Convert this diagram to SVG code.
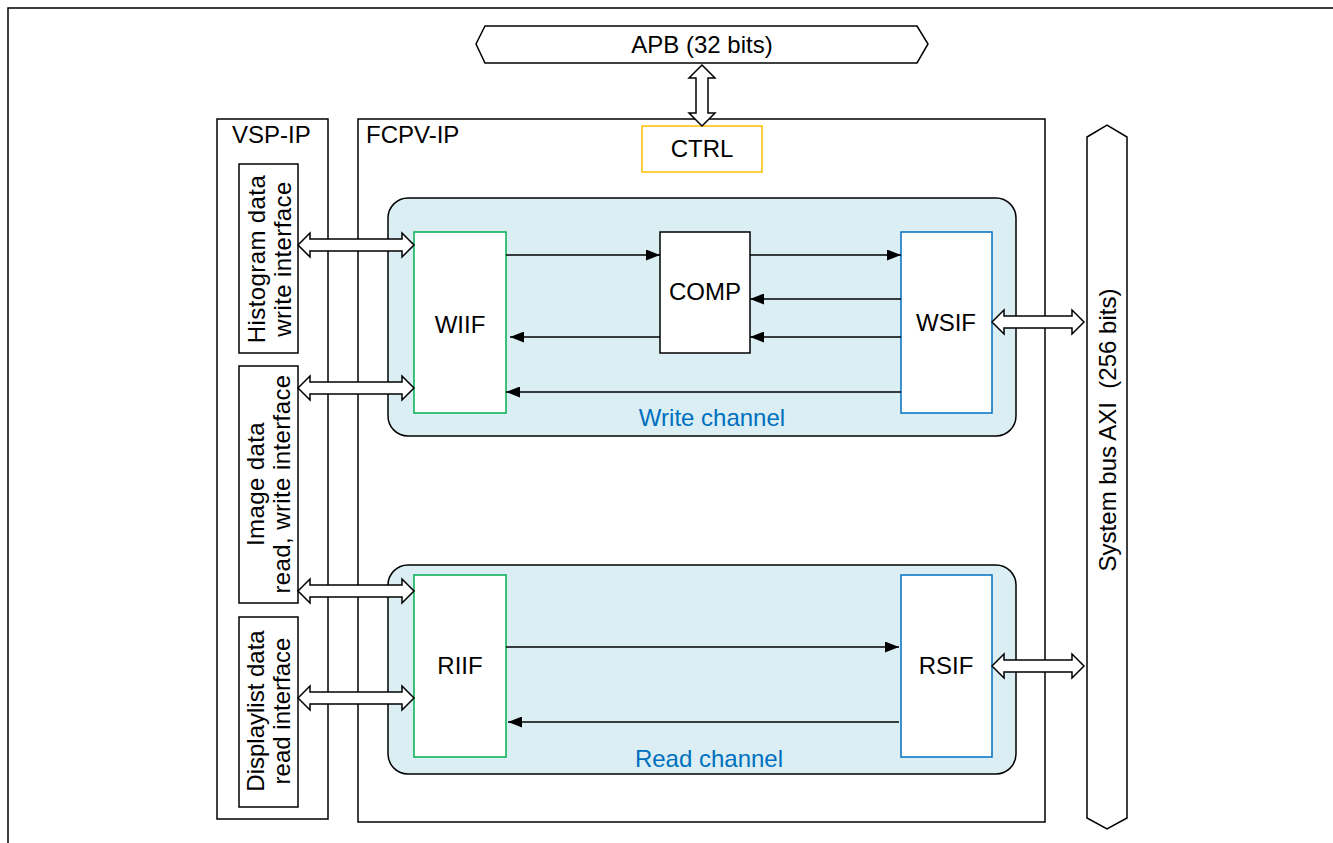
<svg xmlns="http://www.w3.org/2000/svg" width="1333" height="843" viewBox="0 0 1333 843">
<defs>
<style>
text{font-family:"Liberation Sans",Arial,sans-serif;font-size:24px;fill:#000}
.rot{letter-spacing:0.4px}
.box{fill:#fff;stroke:#000;stroke-width:1.5}
.ch{fill:#DAEEF3;stroke:#000;stroke-width:1.5}
.g{fill:#fff;stroke:#00B050;stroke-width:1.5}
.b{fill:#fff;stroke:#0070C0;stroke-width:1.5}
.dbl{fill:#fff;stroke:#000;stroke-width:1.5;stroke-linejoin:miter}
.ln{stroke:#000;stroke-width:1.5;fill:none;marker-end:url(#ah)}
.mid{text-anchor:middle}
.blue{fill:#0070C0}
</style>
<marker id="ah" viewBox="0 0 14 11" refX="14" refY="5.5" markerWidth="14" markerHeight="11" markerUnits="userSpaceOnUse" orient="auto">
<path d="M0,0 L14,5.5 L0,11 Z" fill="#000"/>
</marker>
</defs>
<rect width="1333" height="843" fill="#fff"/>
<path d="M8,843 V8 H1333" fill="none" stroke="#000" stroke-width="1.5"/>

<g id="apb">
<polygon class="box" points="476,44 485,26 917,26 928,44 917,63 485,63"/>
<text class="mid" x="702" y="53">APB (32 bits)</text>
</g>

<g id="vsp-ip">
<rect class="box" x="217" y="119" width="111" height="700"/>
<text x="232" y="143">VSP-IP</text>
</g>

<g id="fcpv-ip">
<rect class="box" x="358" y="119" width="687" height="703"/>
<text x="366" y="143">FCPV-IP</text>
</g>

<g id="ctrl">
<rect x="642" y="126" width="120" height="46" fill="#fff" stroke="#FFC000" stroke-width="1.5"/>
<text class="mid" x="702" y="157">CTRL</text>
</g>

<g id="hist-if">
<rect class="box" x="239" y="164" width="59" height="189"/>
<text class="mid rot" transform="translate(0,259) rotate(-90)"><tspan x="0" y="265">Histogram data</tspan><tspan x="0" y="291">write interface</tspan></text>
</g>

<g id="image-if">
<rect class="box" x="239" y="366" width="59" height="237"/>
<text class="mid rot" transform="translate(0,484) rotate(-90)"><tspan x="0" y="264">Image data</tspan><tspan x="0" y="290">read, write interface</tspan></text>
</g>

<g id="dl-if">
<rect class="box" x="239" y="617" width="59" height="190"/>
<text class="mid" transform="translate(0,711) rotate(-90)"><tspan x="0" y="264">Displaylist data</tspan><tspan x="0" y="290">read interface</tspan></text>
</g>

<g id="write-channel">
<rect class="ch" x="388" y="198" width="628" height="238" rx="20"/>
<text class="mid blue" x="712" y="426">Write channel</text>
</g>

<g id="read-channel">
<rect class="ch" x="388" y="565" width="628" height="209" rx="20"/>
<text class="mid blue" x="709" y="767">Read channel</text>
</g>

<g id="wiif">
<rect class="g" x="414" y="232" width="92" height="181"/>
<text class="mid" x="460" y="333">WIIF</text>
</g>

<g id="comp">
<rect class="box" x="660" y="232" width="90" height="121"/>
<text class="mid" x="705" y="300">COMP</text>
</g>

<g id="wsif">
<rect class="b" x="901" y="232" width="91" height="181"/>
<text class="mid" x="946" y="331">WSIF</text>
</g>

<g id="riif">
<rect class="g" x="414" y="575" width="92" height="182"/>
<text class="mid" x="460" y="674">RIIF</text>
</g>

<g id="rsif">
<rect class="b" x="901" y="575" width="91" height="182"/>
<text class="mid" x="946" y="674">RSIF</text>
</g>

<g id="axi">
<polygon class="box" points="1087,137 1107,125 1127,137 1127,818 1107,829 1087,818"/>
<text class="mid" xml:space="preserve" transform="translate(0,430) rotate(-90)" x="0" y="1116">System bus AXI  (256 bits)</text>
</g>

<g id="connectors">
<polygon class="dbl" points="702,65 715,78 708,78 708,113 715,113 702,126 689,113 696,113 696,78 689,78"/>
<polygon class="dbl" points="298,245 310,233 310,239 402,239 402,233 414,245 402,257 402,251 310,251 310,257"/>
<polygon class="dbl" points="298,388 310,376 310,382 402,382 402,376 414,388 402,400 402,394 310,394 310,400"/>
<polygon class="dbl" points="298,591 310,579 310,585 402,585 402,579 414,591 402,603 402,597 310,597 310,603"/>
<polygon class="dbl" points="298,698 310,686 310,692 402,692 402,686 414,698 402,710 402,704 310,704 310,710"/>
<polygon class="dbl" points="992,322 1004,310 1004,316 1072,316 1072,310 1084,322 1072,334 1072,328 1004,328 1004,334"/>
<polygon class="dbl" points="992,666 1004,654 1004,660 1072,660 1072,654 1084,666 1072,678 1072,672 1004,672 1004,678"/>
<line class="ln" x1="506" y1="255" x2="660" y2="255"/>
<line class="ln" x1="750" y1="255" x2="901" y2="255"/>
<line class="ln" x1="901" y1="299" x2="750" y2="299"/>
<line class="ln" x1="901" y1="337" x2="750" y2="337"/>
<line class="ln" x1="660" y1="337" x2="510" y2="337"/>
<line class="ln" x1="901" y1="392" x2="506" y2="392"/>
<line class="ln" x1="506" y1="647" x2="899" y2="647"/>
<line class="ln" x1="899" y1="722" x2="508" y2="722"/>
</g>
</svg>
